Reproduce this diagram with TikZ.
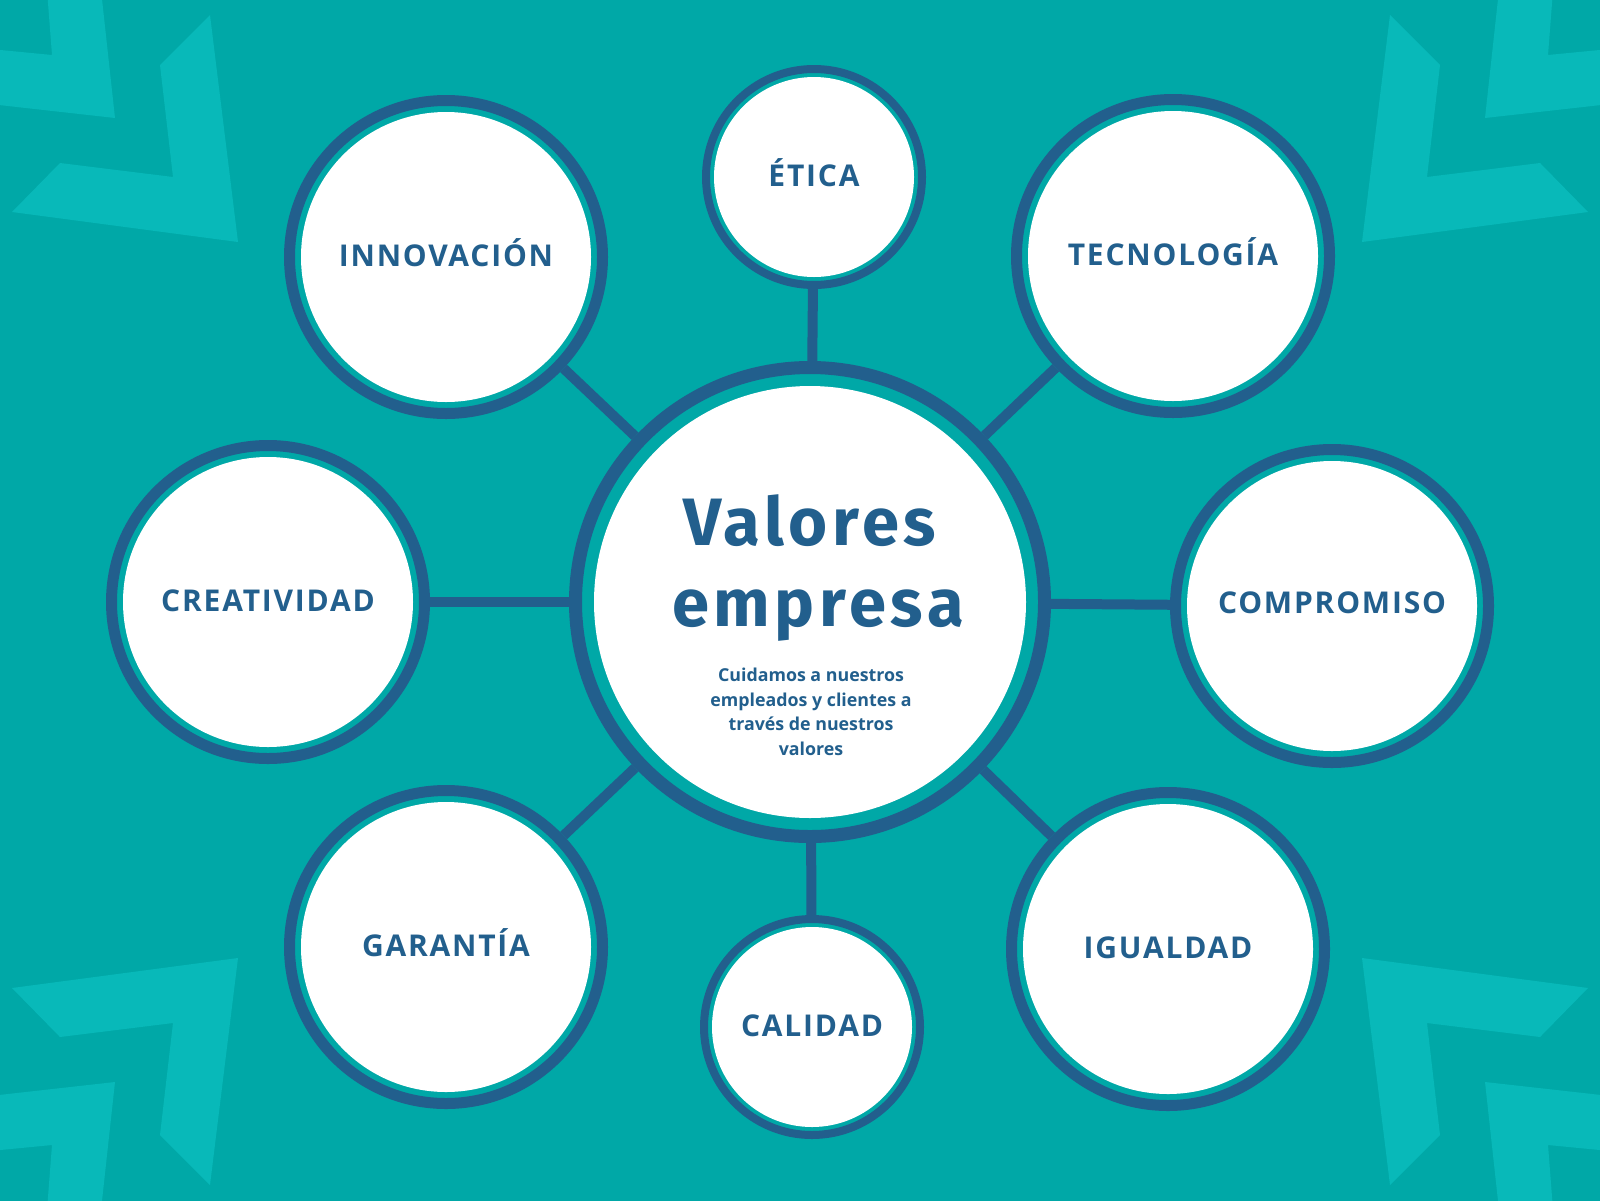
\documentclass[tikz,border=0pt]{standalone}
\usepackage{fontspec}
\setmainfont{Open Sans}
\newfontfamily\labfont[LetterSpace=6]{Open Sans}
\newfontfamily\titfont[LetterSpace=7]{Fira Sans}
\definecolor{bgteal}{HTML}{00A8A7}
\definecolor{chevteal}{HTML}{08B9B9}
\definecolor{dblue}{HTML}{225F8D}
\newcommand\chevpair{%
  \fill[chevteal] (210,15) -- (160,65) -- (173,177) -- (60,163) -- (12,212) -- (238,242) -- cycle;
  \fill[chevteal] (47,-10) -- (101,-10) -- (115,118) -- (-10,104) -- (-10,49) -- (52,55) -- cycle;}
\tikzset{
  ringbase/.style={circle, inner sep=0pt, draw=dblue, fill=bgteal, text=dblue,
    font=\labfont\bfseries\fontsize{30}{36}\selectfont, text height=18pt, text depth=0pt},
  bigc/.style={ringbase, minimum size=313pt, line width=11pt,
    path picture={\fill[white] (path picture bounding box.center) circle (145pt);}},
  smallc/.style={ringbase, minimum size=216pt, line width=8pt,
    path picture={\fill[white] (path picture bounding box.center) circle (100pt);}},
  centc/.style={ringbase, minimum size=469pt, line width=13pt,
    path picture={\fill[white] (path picture bounding box.center) circle (216pt);}},
  conn/.style={draw=dblue, line width=10pt},
  titletext/.style={text=dblue, inner sep=0pt, anchor=base, font=\titfont\bfseries\fontsize{67}{70}\selectfont},
  subtext/.style={text=dblue, inner sep=0pt, align=center, font=\bfseries\fontsize{17.8}{24.5}\selectfont}
}
\begin{document}
\begin{tikzpicture}[x=1pt,y=-1pt]
\useasboundingbox (0,0) rectangle (1600,1200);
\fill[bgteal] (-10,-10) rectangle (1610,1210);
\chevpair
\begin{scope}[shift={(1600,0)}, xscale=-1]\chevpair\end{scope}
\begin{scope}[shift={(0,1200)}, yscale=-1]\chevpair\end{scope}
\begin{scope}[shift={(1600,1200)}, xscale=-1, yscale=-1]\chevpair\end{scope}

\node[centc] (cen) at (810,602) {};
\node[bigc] (inno) at (446,257) {INNOVACIÓN};
\node[smallc] (etica) at (814,177) {ÉTICA};
\node[bigc] (tecno) at (1173,256) {TECNOLOGÍA};
\node[bigc] (crea) at (268,602) {CREATIVIDAD};
\node[bigc, text height=15pt] (comp) at (1332,606) {COMPROMISO};
\node[bigc] (gara) at (446,947) {GARANTÍA};
\node[smallc] (cali) at (812,1027) {CALIDAD};
\node[bigc] (igua) at (1168,949) {IGUALDAD};

\draw[conn] (cen) -- (inno);
\draw[conn] (cen) -- (etica);
\draw[conn] (cen) -- (tecno);
\draw[conn] (cen) -- (crea);
\draw[conn] (cen) -- (comp);
\draw[conn] (cen) -- (gara);
\draw[conn] (cen) -- (cali);
\draw[conn] (cen) -- (igua);

\node[titletext] (t1) at (810,545) {Valores};
\node[titletext] (t2) at (818,626) {empresa};
\node[subtext] (sub) at (811,712) {Cuidamos a nuestros\\empleados y clientes a\\través de nuestros\\valores};
\end{tikzpicture}
\end{document}
